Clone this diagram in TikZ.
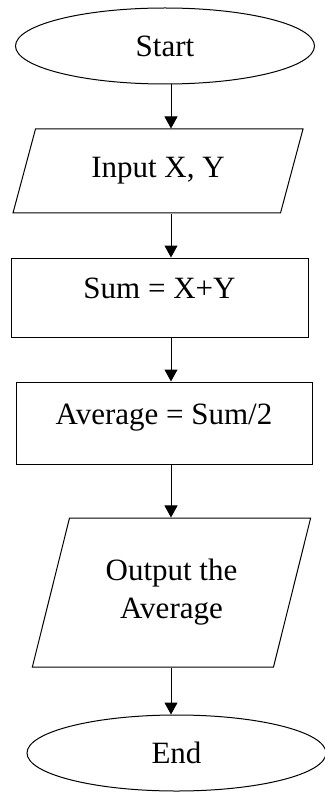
\documentclass[tikz,border=0pt]{standalone}
\usepackage{fontspec}
\setmainfont{Liberation Serif}
\usetikzlibrary{arrows.meta,shapes.geometric}
\newcommand\iobox[3]{\parbox[c][#1][c]{#2}{\centering #3}}

\begin{document}
\begin{tikzpicture}[
  x=1pt,y=-1pt,
  term/.style={draw, ellipse, minimum width=299pt, minimum height=76pt, inner sep=0pt},
  io/.style={draw, trapezium, inner sep=0pt},
  proc/.style={draw, rectangle, inner sep=0pt, text height=21pt, text depth=19pt},
  arr/.style={-{Triangle[length=12pt,width=13pt]}},
  every node/.style={font=\fontsize{31}{38}\selectfont},
  line width=1pt
]
\useasboundingbox (0,0) rectangle (324,794);
\coordinate (axis) at (171,0);
\node[term] (start) at (165,46) {Start};
\node[io, trapezium left angle=75, trapezium right angle=105] (in) at (158,171)
  {\iobox{84pt}{245pt}{Input X, Y}};
\node[proc, minimum width=297pt, minimum height=79pt] (sum) at (159.5,297.5) {Sum = X+Y};
\node[proc, minimum width=296pt, minimum height=82pt] (avg) at (164,423) {Average = Sum/2};
\node[io, trapezium left angle=76, trapezium right angle=104] (out) at (171.5,592.5)
  {\iobox{149pt}{204pt}{Output the\\Average}};
\node[term] (end) at (176.5,753) {End};
\foreach \a/\b in {start/in,in/sum,sum/avg,avg/out,out/end}{\draw[arr] (\a.south -| axis) -- (\b.north -| axis);}
\end{tikzpicture}
\end{document}
